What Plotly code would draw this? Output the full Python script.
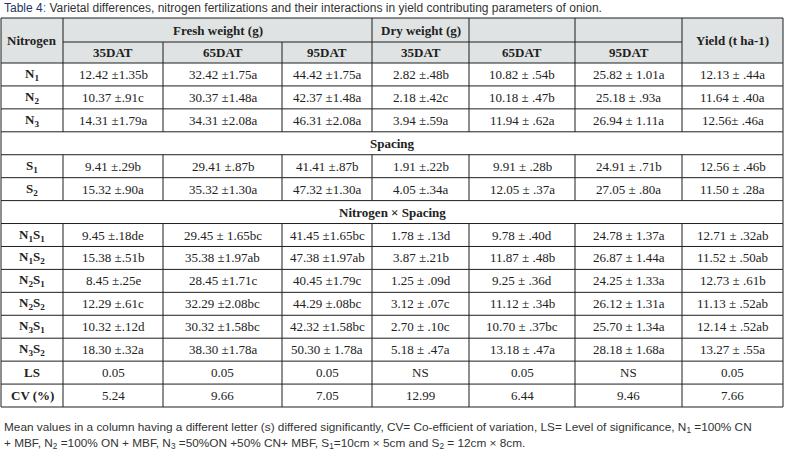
import plotly.graph_objects as go

# table content
title_lead = "Table 4"
title_rest = " Varietal differences, nitrogen fertilizations and their interactions in yield contributing parameters of onion."

group_headers = ["Fresh weight (g)", "Dry weight (g)", "", "", "Yield (t ha-1)"]
sub_headers = ["35DAT", "65DAT", "95DAT", "35DAT", "65DAT", "95DAT"]

row_labels = ["N<sub>1</sub>", "N<sub>2</sub>", "N<sub>3</sub>",
              "S<sub>1</sub>", "S<sub>2</sub>",
              "N<sub>1</sub>S<sub>1</sub>", "N<sub>1</sub>S<sub>2</sub>",
              "N<sub>2</sub>S<sub>1</sub>", "N<sub>2</sub>S<sub>2</sub>",
              "N<sub>3</sub>S<sub>1</sub>", "N<sub>3</sub>S<sub>2</sub>",
              "LS", "CV (%)"]

fresh_35 = ["12.42 ±1.35b", "10.37 ±.91c", "14.31 ±1.79a", "9.41 ±.29b", "15.32 ±.90a",
            "9.45 ±.18de", "15.38 ±.51b", "8.45 ±.25e", "12.29 ±.61c", "10.32 ±.12d",
            "18.30 ±.32a", "0.05", "5.24"]
fresh_65 = ["32.42 ±1.75a", "30.37 ±1.48a", "34.31 ±2.08a", "29.41 ±.87b", "35.32 ±1.30a",
            "29.45 ± 1.65bc", "35.38 ±1.97ab", "28.45 ±1.71c", "32.29 ±2.08bc", "30.32 ±1.58bc",
            "38.30 ±1.78a", "0.05", "9.66"]
fresh_95 = ["44.42 ±1.75a", "42.37 ±1.48a", "46.31 ±2.08a", "41.41 ±.87b", "47.32 ±1.30a",
            "41.45 ±1.65bc", "47.38 ±1.97ab", "40.45 ±1.79c", "44.29 ±.08bc", "42.32 ±1.58bc",
            "50.30 ± 1.78a", "0.05", "7.05"]
dry_35 = ["2.82 ±.48b", "2.18 ±.42c", "3.94 ±.59a", "1.91 ±.22b", "4.05 ±.34a",
          "1.78 ± .13d", "3.87 ±.21b", "1.25 ± .09d", "3.12 ± .07c", "2.70 ± .10c",
          "5.18 ± .47a", "NS", "12.99"]
dry_65 = ["10.82 ± .54b", "10.18 ± .47b", "11.94 ± .62a", "9.91 ± .28b", "12.05 ± .37a",
          "9.78 ± .40d", "11.87 ± .48b", "9.25 ± .36d", "11.12 ± .34b", "10.70 ± .37bc",
          "13.18 ± .47a", "0.05", "6.44"]
dry_95 = ["25.82 ± 1.01a", "25.18 ± .93a", "26.94 ± 1.11a", "24.91 ± .71b", "27.05 ± .80a",
          "24.78 ± 1.37a", "26.87 ± 1.44a", "24.25 ± 1.33a", "26.12 ± 1.31a", "25.70 ± 1.34a",
          "28.18 ± 1.68a", "NS", "9.46"]
yield_t = ["12.13 ± .44a", "11.64 ± .40a", "12.56± .46a", "12.56 ± .46b", "11.50 ± .28a",
           "12.71 ± .32ab", "11.52 ± .50ab", "12.73 ± .61b", "11.13 ± .52ab", "12.14 ± .52ab",
           "13.27 ± .55a", "0.05", "7.66"]

# section rows inserted before these data rows
sections = {3: "Spacing", 5: "Nitrogen × Spacing"}

footnote = ["Mean values in a column having a different letter (s) differed significantly, "
            "CV= Co-efficient of variation, LS= Level of significance, N<sub>1</sub> =100% CN",
            "+ MBF, N<sub>2</sub> =100% ON + MBF, N<sub>3</sub> =50%ON +50% CN+ MBF, "
            "S<sub>1</sub>=10cm × 5cm and S<sub>2</sub> = 12cm × 8cm."]

# geometry (pixels)
W, H = 787, 461
col_x = [1, 63, 163, 282, 372, 469, 575, 682, 783]
top, head1, head2, bottom = 18, 42, 63, 407
n_body = len(row_labels) + len(sections)
row_h = (bottom - head2) / n_body

line_col = "#1e1e1e"
head_bg = "#dfe3e3"
txt_col = "#222222"
serif = "Liberation Serif"
sans = "Liberation Sans"

fig = go.Figure()
shapes = []
ann = []


def cell_text(x, y, text, bold=False, size=13):
    if bold:
        text = "<b>" + text + "</b>"
    ann.append(dict(x=x, y=y, text=text, showarrow=False, xanchor="center", yanchor="middle",
                    font=dict(family=serif, size=size, color=txt_col)))


def hline(x0, x1, y):
    shapes.append(dict(type="line", x0=x0, x1=x1, y0=y, y1=y, line=dict(color=line_col, width=1)))


def vline(x, y0, y1):
    shapes.append(dict(type="line", x0=x, x1=x, y0=y0, y1=y1, line=dict(color=line_col, width=1)))


# header background
shapes.append(dict(type="rect", x0=col_x[0], x1=col_x[-1], y0=top, y1=head2,
                   fillcolor=head_bg, line=dict(width=0), layer="below"))

# header text
cell_text((col_x[0] + col_x[1]) / 2, (top + head2) / 2, "Nitrogen", bold=True)
cell_text((col_x[1] + col_x[4]) / 2, (top + head1) / 2, group_headers[0], bold=True)
cell_text((col_x[4] + col_x[5]) / 2, (top + head1) / 2, group_headers[1], bold=True)
cell_text((col_x[7] + col_x[8]) / 2, (top + head2) / 2, group_headers[4], bold=True)
for i, s in enumerate(sub_headers):
    cell_text((col_x[i + 1] + col_x[i + 2]) / 2, (head1 + head2) / 2, s, bold=True)

# header lines
hline(col_x[0], col_x[-1], top)
hline(col_x[1], col_x[7], head1)
hline(col_x[0], col_x[-1], head2)
for x in col_x:
    if x == col_x[2] or x == col_x[3]:
        vline(x, head1, head2)
    else:
        vline(x, top, head2)

# body
columns = [fresh_35, fresh_65, fresh_95, dry_35, dry_65, dry_95, yield_t]
y = head2
for r, lab in enumerate(row_labels):
    if r in sections:
        y1 = y + row_h
        cell_text((col_x[0] + col_x[-1]) / 2, (y + y1) / 2, sections[r], bold=True)
        vline(col_x[0], y, y1)
        vline(col_x[-1], y, y1)
        hline(col_x[0], col_x[-1], y1)
        y = y1
    y1 = y + row_h
    cy = (y + y1) / 2
    cell_text((col_x[0] + col_x[1]) / 2, cy, lab, bold=True)
    for c, vals in enumerate(columns):
        cell_text((col_x[c + 1] + col_x[c + 2]) / 2, cy, vals[r])
    for x in col_x:
        vline(x, y, y1)
    hline(col_x[0], col_x[-1], y1)
    y = y1

# title and footnote
ann.append(dict(x=2, y=8, xanchor="left", yanchor="middle", showarrow=False,
                text="<span style='color:#1f3566'>" + title_lead + "</span>"
                     "<span style='color:#2d6bb3'>:</span>" + title_rest,
                font=dict(family=sans, size=12, color="#333333")))
for i, line in enumerate(footnote):
    ann.append(dict(x=2, y=427 + i * 16, xanchor="left", yanchor="middle", showarrow=False,
                    text=line, font=dict(family=sans, size=11.8, color="#333333")))

fig.update_layout(
    width=W, height=H,
    margin=dict(l=0, r=0, t=0, b=0),
    paper_bgcolor="white", plot_bgcolor="white",
    xaxis=dict(range=[0, W], visible=False, fixedrange=True),
    yaxis=dict(range=[H, 0], visible=False, fixedrange=True),
    shapes=shapes, annotations=ann,
    showlegend=False,
)

# page body has a default margin; drop it so the figure sits at the window origin
fig.write_html("out.html", config={"displayModeBar": False},
               post_script="document.body.style.margin='0';")
